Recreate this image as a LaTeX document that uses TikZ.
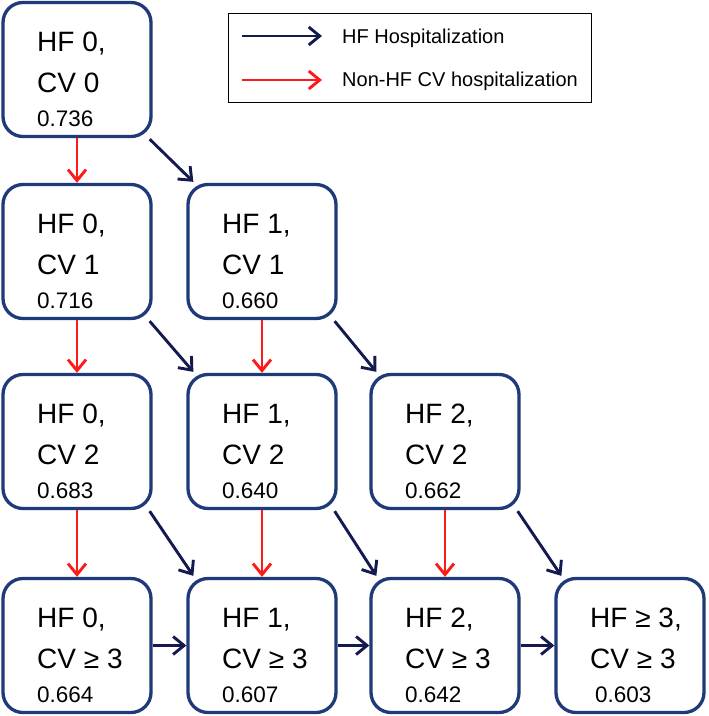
\documentclass[tikz,border=0pt]{standalone}
\usepackage{fontspec}
\setmainfont{Liberation Sans}
\usetikzlibrary{arrows.meta,calc}
\definecolor{boxblue}{HTML}{1F3A78}
\definecolor{hfnavy}{HTML}{141A4F}
\definecolor{cvred}{HTML}{FF1A1A}
\tikzset{
  statebox/.style={draw=boxblue, line width=3.3pt, rounded corners=20pt,
    minimum width=148pt, minimum height=134pt, fill=white, inner sep=0pt},
  bigtxt/.style={font=\fontsize{28}{30}\selectfont, inner sep=0pt, anchor=base west},
  numtxt/.style={font=\fontsize{22.5}{24}\selectfont, inner sep=0pt, anchor=base west},
  legtxt/.style={font=\fontsize{20}{22}\selectfont, inner sep=0pt, anchor=base west},
  hfarrow/.style={draw=hfnavy, line width=2.9pt, -{Straight Barb[length=11pt,width=18pt]}},
  cvarrow/.style={draw=cvred, line width=2.9pt, -{Straight Barb[length=11pt,width=18pt]}},
  legendbox/.style={draw=black, line width=1.5pt, minimum width=363pt, minimum height=89pt, inner sep=0pt},
}
\newcommand\statenode[7][0]{%
  \node[statebox] (#2) at (#3,#4) {};
  \node[bigtxt] (#2l1) at ($(#2.center)+(-40,-18)$) {#5};
  \node[bigtxt] (#2l2) at ($(#2.center)+(-40,23)$) {#6};
  \node[numtxt] (#2n) at ($(#2.center)+(-40+#1,57)$) {#7};
}
\begin{document}
\begin{tikzpicture}[x=1pt,y=-1pt]
\useasboundingbox (0,0) rectangle (709,716);
% legend
\node[legendbox] (legend) at (410,58) {};
\coordinate (lhs) at (242,36);
\coordinate (lhe) at (322,36);
\coordinate (lcs) at (242,80);
\coordinate (lce) at (322,80);
\draw[hfarrow] (lhs) -- (lhe);
\draw[cvarrow] (lcs) -- (lce);
\node[legtxt] (lht) at (342,43) {HF Hospitalization};
\node[legtxt] (lct) at (342,86) {Non-HF CV hospitalization};
% states
\statenode{b00}{77}{69.5}{HF 0,}{CV 0}{0.736}
\statenode{b01}{77}{251.5}{HF 0,}{CV 1}{0.716}
\statenode{b11}{262}{251.5}{HF 1,}{CV 1}{0.660}
\statenode{b02}{77}{441.5}{HF 0,}{CV 2}{0.683}
\statenode{b12}{262}{441.5}{HF 1,}{CV 2}{0.640}
\statenode{b22}{445}{441.5}{HF 2,}{CV 2}{0.662}
\statenode{b03}{77}{645.5}{HF 0,}{CV ≥ 3}{0.664}
\statenode{b13}{262}{645.5}{HF 1,}{CV ≥ 3}{0.607}
\statenode{b23}{445}{645.5}{HF 2,}{CV ≥ 3}{0.642}
\statenode[5]{b33}{630}{645.5}{HF ≥ 3,}{CV ≥ 3}{0.603}
% red (non-HF CV) arrows
\draw[cvarrow] (b00.south) -- (b01.north);
\draw[cvarrow] (b01.south) -- (b02.north);
\draw[cvarrow] (b02.south) -- (b03.north);
\draw[cvarrow] (b11.south) -- (b12.north);
\draw[cvarrow] (b12.south) -- (b13.north);
\draw[cvarrow] (b22.south) -- (b23.north);
% HF arrows
\draw[hfarrow] ($(b00.south east)+(-3,1)$) -- ($(b11.north west)+(7,-1)$);
\draw[hfarrow] ($(b01.south east)+(-3,1)$) -- ($(b12.north west)+(7,-1)$);
\draw[hfarrow] ($(b11.south east)+(-3,1)$) -- ($(b22.north west)+(7,-1)$);
\draw[hfarrow] ($(b02.south east)+(-3,1)$) -- ($(b13.north west)+(7,-1)$);
\draw[hfarrow] ($(b12.south east)+(-3,1)$) -- ($(b23.north west)+(7,-1)$);
\draw[hfarrow] ($(b22.south east)+(-3,1)$) -- ($(b33.north west)+(7,-1)$);
\draw[hfarrow] (b03.east) -- (b13.west);
\draw[hfarrow] (b13.east) -- (b23.west);
\draw[hfarrow] (b23.east) -- (b33.west);
\end{tikzpicture}
\end{document}
